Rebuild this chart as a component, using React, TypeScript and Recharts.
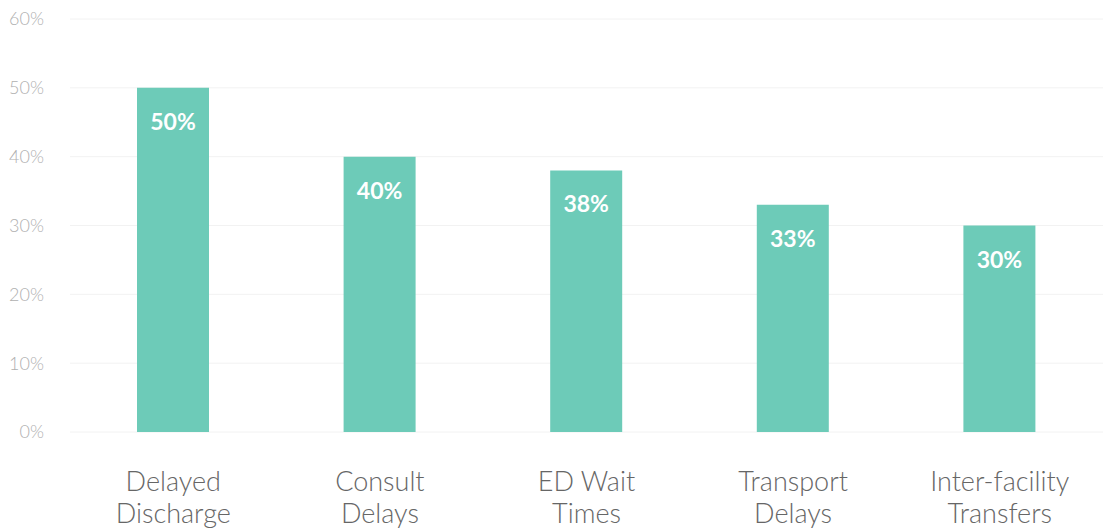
import React from "react";
import { BarChart, Bar, XAxis, YAxis, CartesianGrid, LabelList } from "recharts";

const categories = ["Delayed Discharge", "Consult Delays", "ED Wait Times", "Transport Delays", "Inter-facility Transfers"];
const categoryLines = [["Delayed", "Discharge"], ["Consult", "Delays"], ["ED Wait", "Times"], ["Transport", "Delays"], ["Inter-facility", "Transfers"]];
const values = [50, 40, 38, 33, 30];
const yTicks = [0, 10, 20, 30, 40, 50, 60];

const FONT = "Lato, 'Open Sans', sans-serif";

const data = categories.map((name, i) => ({ name, value: values[i] }));

const CategoryTick = ({ x, y, index }: any) => {
  const lines = categoryLines[index] || [];
  return (
    <text x={x} y={y} textAnchor="middle" fill="#666" fontSize={27} fontWeight={300} fontFamily={FONT}>
      {lines.map((l, i) => (
        <tspan key={i} x={x} dy={i === 0 ? 51 : 32}>{l}</tspan>
      ))}
    </text>
  );
};

const ValueLabel = ({ x, y, width, value }: any) => (
  <text x={x + width / 2} y={y + 33} textAnchor="middle" dominantBaseline="central" fill="#fff" fontSize={23} fontWeight={700} fontFamily={FONT}>
    {value}%
  </text>
);

export default function App() {
  return (
    <div style={{ position: "absolute", left: 0, top: 0, background: "#fff" }}>
      <BarChart width={1103} height={529} data={data} margin={{ top: 19, right: 0, left: 0, bottom: 0 }}>
        <CartesianGrid vertical={false} stroke="#f2f2f2" />
        <XAxis dataKey="name" axisLine={false} tickLine={false} height={97} interval={0} tick={<CategoryTick />} />
        <YAxis
          domain={[0, 60]}
          ticks={yTicks}
          width={70}
          axisLine={false}
          tickLine={false}
          tickMargin={20}
          tickFormatter={(v: number) => `${v}%`}
          tick={{ fill: "#b0b0b0", fontSize: 18, fontWeight: 300, fontFamily: FONT }}
        />
        <Bar dataKey="value" fill="#6dcbb8" barSize={72} isAnimationActive={false}>
          <LabelList dataKey="value" content={<ValueLabel />} />
        </Bar>
      </BarChart>
    </div>
  );
}
